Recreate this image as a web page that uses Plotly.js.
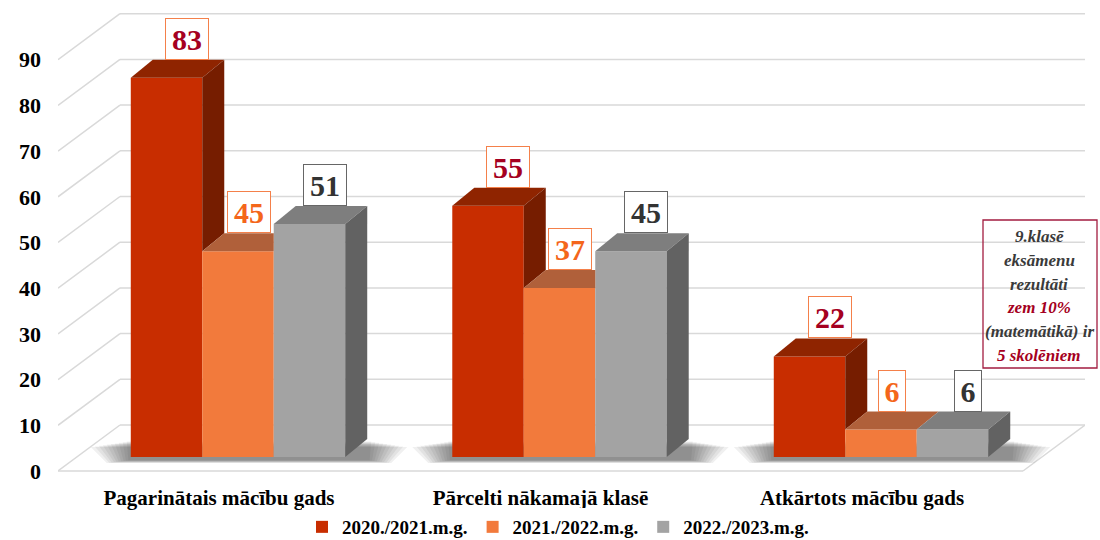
<!DOCTYPE html>
<html>
<head>
<meta charset="utf-8">
<script src="https://cdn.plot.ly/plotly-3.0.1.min.js"></script>
<style>html,body{margin:0;padding:0;background:#fff;}#chart{width:1100px;height:540px;}</style>
</head>
<body>
<div id="chart"></div>
<script>
// ---- data ----
const categories = ['Pagarinātais mācību gads', 'Pārcelti nākamajā klasē', 'Atkārtots mācību gads'];
const seriesNames = ['2020./2021.m.g.', '2021./2022.m.g.', '2022./2023.m.g.'];
const values2020_21 = [83, 55, 22];
const values2021_22 = [45, 37, 6];
const values2022_23 = [51, 45, 6];
const yTicks = [0, 10, 20, 30, 40, 50, 60, 70, 80, 90];
const noteLines = ['9.klasē', 'eksāmenu', 'rezultāti', 'zem 10%', '(matemātikā) ir', '5 skolēniem'];
const noteHighlight = [false, false, false, true, false, true];

// ---- styling / geometry ----
const FONT = '"Liberation Serif", "Times New Roman", serif';
const W = 1100, H = 540, ML = 58, MR = 15, MT = 0, MB = 65;
const plotW = W - ML - MR, plotH = H - MT - MB;
const PXX = 321.5;               // px per category unit
const PXY = 4.57;                // px per value unit
const FIRST_CENTER_PX = 238;     // px of first group centre (bar plane)
const BAR_BASE_PX = 457;         // px of value 0 in bar plane
const xMin = (ML - FIRST_CENTER_PX) / PXX;
const xMax = xMin + plotW / PXX;
const yMax = (BAR_BASE_PX - MT) / PXY;
const yMin = yMax - plotH / PXY;
const FRONT = -(471 - BAR_BASE_PX) / PXY;   // front floor plane offset
const BACK = (BAR_BASE_PX - 425) / PXY;     // back wall plane offset
const xFrontL = xMin, xBackL = (120 - FIRST_CENTER_PX) / PXX;
const xFrontR = (1023 - FIRST_CENTER_PX) / PXX, xBackR = xMax;
const DX = 22 / PXX, DY = 18 / PXY;
const BARGAP = 0.333;
const BW = (1 - BARGAP) / 3;
const pxToPaperX = px => (px - ML) / plotW;
const pxToPaperY = py => (H - MB - py) / plotH;

const seriesValues = [values2020_21, values2021_22, values2022_23];
const frontColors = ['#c82d00', '#f27a3c', '#a3a3a3'];
const topColors = ['#8f2400', '#b0603a', '#7e7e7e'];
const sideColors = ['#761d00', '#a84f20', '#626262'];
const labelText = ['#a50021', '#f4661b', '#333333'];
const labelBorder = ['#f4804a', '#f4804a', '#666666'];
const labelShiftPx = [20, 10.5, 15.5];

const traces = seriesNames.map((name, k) => ({
  type: 'bar', name: name, x: categories.map((c, i) => i), y: seriesValues[k],
  marker: {color: frontColors[k], line: {width: 0}},
  hoverinfo: 'skip'
}));

const shapes = [];
const gridStyle = {color: '#d9d9d9', width: 1.5};
yTicks.forEach(g => {
  shapes.push({type: 'line', xref: 'x', yref: 'y', layer: 'below', x0: xBackL, x1: xBackR, y0: g + BACK, y1: g + BACK, line: gridStyle});
  shapes.push({type: 'line', xref: 'x', yref: 'y', layer: 'below', x0: xFrontL, x1: xBackL, y0: g + FRONT, y1: g + BACK, line: gridStyle});
});
shapes.push({type: 'line', xref: 'x', yref: 'y', layer: 'below', x0: xFrontL, x1: xFrontR, y0: FRONT, y1: FRONT, line: gridStyle});
shapes.push({type: 'line', xref: 'x', yref: 'y', layer: 'below', x0: xFrontR, x1: xBackR, y0: FRONT, y1: BACK, line: gridStyle});

// soft shadows on the floor
categories.forEach((c, i) => {
  const gl = i - 1.5 * BW, gr = i + 1.5 * BW + DX;
  for (let j = 0; j < 10; j++) {
    const e = 40 - j * 4;
    const ex = e / PXX;
    const vb = -(6 - j * 0.3) / PXY, vt = DY - (8 - j * 0.6) / PXY;
    shapes.push({type: 'path', xref: 'x', yref: 'y', layer: 'below',
      path: `M${gl - ex * 0.6},${vb} L${gr + ex * 0.6},${vb} L${gr + ex},${vt} L${gl - ex},${vt} Z`,
      fillcolor: 'rgba(50,50,50,0.075)', line: {width: 0}});
  }
});

// 3D top and side faces + value labels
const annotations = [];
categories.forEach((c, i) => {
  for (let k = 0; k < 3; k++) {
    const v = seriesValues[k][i];
    const x0 = i + (k - 1.5) * BW, x1 = x0 + BW;
    const next = k < 2 ? seriesValues[k + 1][i] : 0;
    let top;
    if (k < 2 && next > v) {
      top = `M${x0},${v} L${x1},${v} L${x1},${v + DY} L${x0 + DX},${v + DY} Z`;
    } else {
      top = `M${x0},${v} L${x1},${v} L${x1 + DX},${v + DY} L${x0 + DX},${v + DY} Z`;
    }
    shapes.push({type: 'path', xref: 'x', yref: 'y', layer: 'above', path: top, fillcolor: topColors[k], line: {width: 0}});
    if (!(k < 2 && next >= v)) {
      const lo = k < 2 ? next : 0;
      shapes.push({type: 'path', xref: 'x', yref: 'y', layer: 'above',
        path: `M${x1},${lo} L${x1},${v} L${x1 + DX},${v + DY} L${x1 + DX},${lo + DY} Z`,
        fillcolor: sideColors[k], line: {width: 0}});
    }
    annotations.push({
      xref: 'x', yref: 'y', x: (x0 + x1) / 2 + labelShiftPx[k] / PXX, y: v + DY,
      xanchor: 'center', yanchor: 'bottom', showarrow: false,
      text: String(v),
      font: {family: FONT, size: 30, color: labelText[k], weight: 'bold'},
      bgcolor: '#ffffff', bordercolor: labelBorder[k], borderwidth: 1, borderpad: 1,
      width: String(v).length * 16 + 8, height: 38
    });
  }
});

// note box (frame + one line per annotation)
shapes.push({type: 'rect', xref: 'paper', yref: 'paper', layer: 'above',
  x0: pxToPaperX(983), x1: pxToPaperX(1097), y0: pxToPaperY(368), y1: pxToPaperY(220),
  line: {color: '#a31d40', width: 1.3}, fillcolor: 'rgba(0,0,0,0)'});
noteLines.forEach((t, j) => {
  annotations.push({
    xref: 'paper', yref: 'paper', x: pxToPaperX(1039), y: pxToPaperY(237 + j * 23.6),
    xanchor: 'center', yanchor: 'middle', showarrow: false,
    text: t,
    font: {family: FONT, size: 17, color: noteHighlight[j] ? '#a50021' : '#3a3a3a', weight: 'bold', style: 'italic'}
  });
});

const layout = {
  width: W, height: H,
  margin: {l: ML, r: MR, t: MT, b: MB, pad: 0, autoexpand: false},
  paper_bgcolor: '#ffffff', plot_bgcolor: 'rgba(0,0,0,0)',
  barmode: 'group', bargap: BARGAP, bargroupgap: 0,
  showlegend: true,
  legend: {orientation: 'h', x: pxToPaperX(558), xanchor: 'center', y: pxToPaperY(527), yanchor: 'middle',
    font: {family: FONT, size: 19, color: '#000', weight: 'bold'}, itemwidth: 30, traceorder: 'normal'},
  xaxis: {range: [xMin, xMax], showgrid: false, zeroline: false, showline: false, automargin: false,
    tickmode: 'array', tickvals: categories.map((c, i) => i - 19 / PXX), ticktext: categories,
    ticks: '', ticklabelstandoff: 8,
    tickfont: {family: FONT, size: 21, color: '#000', weight: 'bold'}, fixedrange: true},
  yaxis: {range: [yMin, yMax], showgrid: false, zeroline: false, showline: false, automargin: false,
    tickmode: 'array', tickvals: yTicks.map(t => t + FRONT), ticktext: yTicks.map(String),
    ticks: '', ticklabelstandoff: 16,
    tickfont: {family: FONT, size: 22, color: '#000', weight: 'bold'}, fixedrange: true},
  shapes: shapes,
  annotations: annotations,
  hovermode: false
};

Plotly.newPlot('chart', traces, layout, {displayModeBar: false, staticPlot: true});
</script>
</body>
</html>
